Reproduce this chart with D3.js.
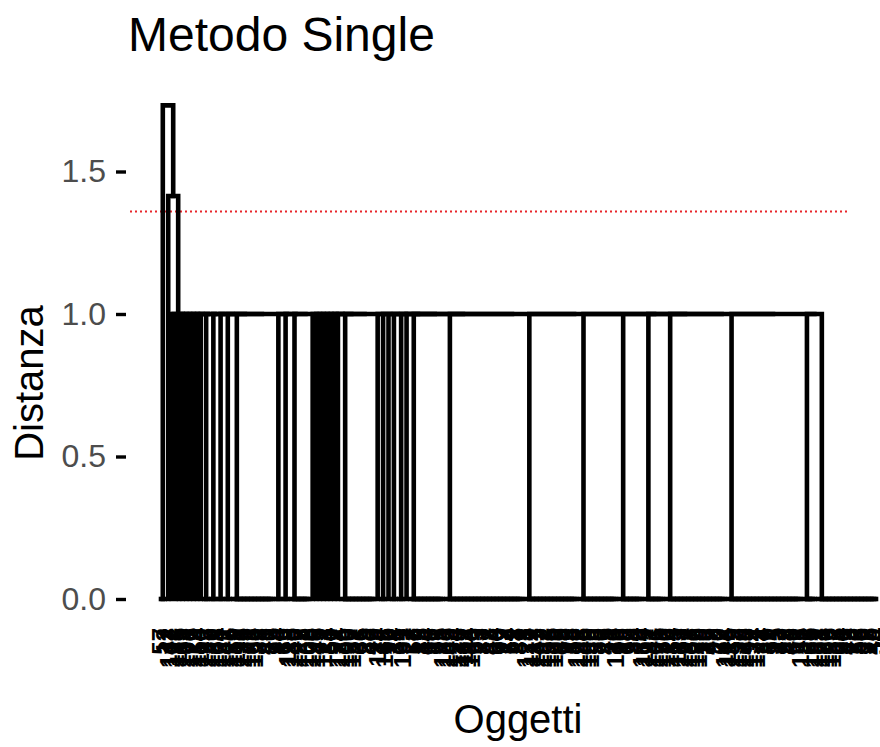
<!DOCTYPE html>
<html>
<head>
<meta charset="utf-8">
<script src="https://cdn.jsdelivr.net/npm/d3@7"></script>
<style>
body { margin: 0; background: #fff; }
text { font-family: "Liberation Sans", Arial, sans-serif; }
</style>
</head>
<body>
<div class="chart"></div>
<script>
// leaves that join at the top of the tree
const rootLeft = ['57', '12'];
const secondLeft = ['142'];

// groups of identical objects (distance 0) that all join at distance 1
const mainGroups = [
  ['107'], ['188'], ['115'], ['163'], ['101'], ['176'], ['129'], ['154'], ['110'],
  ['193', '137'], ['120', '168'], ['104', '181'], ['147', '125'],
  ['159', '112', '196', '133', '171', '103', '150', '88', '3', '41', '70', '25'],
  ['94', '16'], ['63', '118'],
  ['185', '140', '127', '8', '162', '108'],
  ['199'], ['145'], ['79'], ['121'], ['34'], ['50'], ['97'], ['174'],
  ['136', '100', '190', '157', '21', '66', '5', '83', '46', '29'],
  ['114'], ['72', '166'], ['90'], ['14', '38'], ['61', '131'], ['2'],
  ['77', '53', '19', '85', '44', '68', '10', '31', '95', '183'],
  ['105', '149', '124', '178', '139', '111', '194', '160', '59', '23', '81', '7', '48', '64', '36', '99', '17', '74', '52', '28', '87', '1'],
  ['128', '172', '117', '143', '102', '187', '153', '135', '169', '42', '69', '92', '13', '58', '122'],
  ['198', '146', '109', '180', '33', '80', '6', '45', '71', '26', '130'],
  ['96', '18', '62', '39', '84', '9', '164'],
  ['119', '191', '141', '106', '175', '156'],
  ['126', '184', '55', '113', '151', '197', '138', '167', '123', '179', '30', '76', '47', '93', '20', '67', '144'],
  ['116', '189', '158', '132', '170', '148', '192', '134', '177', '4', '37', '89', '51', '15', '73', '27', '98', '43', '60', '11', '155'],
  ['82', '35', '165', '182'],
  ['161', '173', '186', '195', '152', '65', '24', '91', '49', '78', '22', '56', '86', '32', '75', '40', '54']
];

const rootHeight = 1.732;
const secondHeight = 1.414;
const mainHeight = 1.0;
const tieHeight = 0;
const cutHeight = 1.36;
const yTicks = [0, 0.5, 1.0, 1.5];

// binary merges, nested to the right like hclust ties
function chain(items, h) {
  if (items.length === 1) return items[0];
  return { dist: h, children: [items[0], chain(items.slice(1), h)] };
}
const leaf = name => ({ name: name, dist: 0 });
const group = names => chain(names.map(leaf), tieHeight);

// the first two groups at distance 1 are merged together first
const mainNodes = mainGroups.map(group);
const mainTree = chain([{ dist: mainHeight, children: mainNodes.slice(0, 2) }].concat(mainNodes.slice(2)), mainHeight);

const treeData = {
  dist: rootHeight,
  children: [
    group(rootLeft),
    { dist: secondHeight, children: [group(secondLeft), mainTree] }
  ]
};

const svg = d3.select('.chart')
  .append('svg')
  .attr('width', 880)
  .attr('height', 747);

const root = d3.hierarchy(treeData);
const leaves = root.leaves();

const x = d3.scaleLinear().domain([0, leaves.length - 1]).range([161, 876]);
const y = d3.scaleLinear().domain([0, 1.5]).range([599, 171.5]);

leaves.forEach((d, i) => d.px = x(i));
root.eachAfter(d => {
  if (d.children) d.px = d3.mean(d.children, c => c.px);
});

// red cut line
svg.append('line')
  .attr('x1', 130)
  .attr('x2', 848)
  .attr('y1', y(cutHeight))
  .attr('y2', y(cutHeight))
  .style('stroke', '#e8272b')
  .style('stroke-width', 2)
  .style('stroke-dasharray', '2,3');

// elbows
svg.append('g')
  .selectAll('path')
  .data(root.descendants().filter(d => d.children))
  .join('path')
  .attr('d', d => {
    const a = d.children[0], b = d.children[1];
    return `M${a.px},${y(a.data.dist)}V${y(d.data.dist)}H${b.px}V${y(b.data.dist)}`;
  })
  .style('fill', 'none')
  .style('stroke', '#000')
  .style('stroke-width', 4.6)
  .style('stroke-linecap', 'square')
  .style('stroke-linejoin', 'miter');

// leaf labels
svg.append('g')
  .selectAll('text')
  .data(leaves)
  .join('text')
  .attr('transform', d => `translate(${d.px},628) rotate(-90)`)
  .attr('text-anchor', 'end')
  .attr('dy', '0.35em')
  .style('font-size', '24px')
  .style('font-weight', 'bold')
  .style('fill', '#000')
  .text(d => d.data.name);

// y axis
const yAxis = svg.append('g')
  .attr('transform', 'translate(126,0)')
  .call(d3.axisLeft(y).tickValues(yTicks).tickFormat(d3.format('.1f')).tickSize(10).tickPadding(10));
yAxis.select('.domain').remove();
yAxis.selectAll('line').style('stroke', '#000').style('stroke-width', 3.4);
yAxis.selectAll('text')
  .style('font-size', '32px')
  .style('font-family', '"Liberation Sans", Arial, sans-serif')
  .style('fill', '#4d4d4d');

svg.append('text')
  .attr('x', 128)
  .attr('y', 51)
  .style('font-size', '48px')
  .text('Metodo Single');

svg.append('text')
  .attr('x', 518)
  .attr('y', 733)
  .attr('text-anchor', 'middle')
  .style('font-size', '40px')
  .text('Oggetti');

svg.append('text')
  .attr('transform', 'translate(43,383) rotate(-90)')
  .attr('text-anchor', 'middle')
  .style('font-size', '40px')
  .text('Distanza');
</script>
</body>
</html>
